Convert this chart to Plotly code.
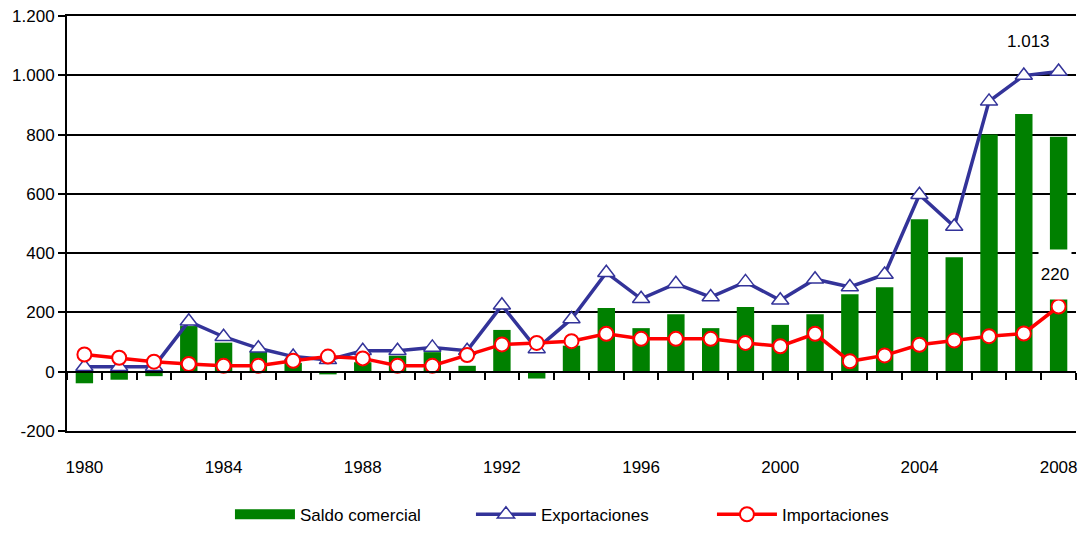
import plotly.graph_objects as go

# Datos (millones)
anyos = [1980, 1981, 1982, 1983, 1984, 1985, 1986, 1987, 1988, 1989,
         1990, 1991, 1992, 1993, 1994, 1995, 1996, 1997, 1998, 1999,
         2000, 2001, 2002, 2003, 2004, 2005, 2006, 2007, 2008]

exportaciones = [17, 17, 17, 170, 118, 79, 51, 40, 71, 71,
                 82, 71, 224, 77, 178, 334, 246, 297, 252, 303,
                 241, 312, 286, 328, 597, 490, 912, 999, 1013]

importaciones = [58, 47, 34, 26, 20, 20, 37, 51, 45, 20,
                 20, 56, 92, 97, 103, 128, 111, 111, 111, 97,
                 86, 128, 35, 55, 91, 105, 120, 129, 220]

saldo = [-39, -27, -15, 154, 98, 68, 30, -9, 32, 54,
         66, 20, 141, -23, 88, 215, 147, 194, 147, 218,
         158, 194, 261, 285, 514, 386, 800, 869, 793]

anyos_etiqueta = [1980, 1984, 1988, 1992, 1996, 2000, 2004, 2008]
valores_eje_y = [-200, 0, 200, 400, 600, 800, 1000, 1200]
etiquetas_eje_y = ['-200', '0', '200', '400', '600', '800', '1.000', '1.200']

AZUL = '#333399'
ROJO = '#ff0000'
VERDE = '#008000'
FUENTE = 'Liberation Sans, Arial, sans-serif'
TAM = 17

rango_x = [anyos[0] - 0.5, anyos[-1] + 0.5]
rango_y = [valores_eje_y[0], valores_eje_y[-1]]
# posicion del eje en y = 0 (fraccion del area de dibujo)
pos_cero = (0 - rango_y[0]) / (rango_y[1] - rango_y[0])


def miles(v):
    return f"{v:,}".replace(',', '.')


fig = go.Figure()

fig.add_trace(go.Bar(
    x=anyos,
    y=saldo,
    name='Saldo comercial',
    marker=dict(color=VERDE, line=dict(width=0)),
    width=0.5,
    showlegend=False,
    xaxis='x', yaxis='y'
))

# solo para la leyenda (rectangulo ancho verde)
fig.add_trace(go.Scatter(
    x=[None], y=[None],
    name='Saldo comercial',
    mode='lines',
    line=dict(color=VERDE, width=17),
    xaxis='x2', yaxis='y'
))

fig.add_trace(go.Scatter(
    x=anyos,
    y=exportaciones,
    name='Exportaciones',
    mode='lines+markers',
    line=dict(color=AZUL, width=3.5),
    marker=dict(symbol='triangle-up', size=15, color='white',
                line=dict(color=AZUL, width=1.5)),
    xaxis='x2', yaxis='y'
))

fig.add_trace(go.Scatter(
    x=anyos,
    y=importaciones,
    name='Importaciones',
    mode='lines+markers',
    line=dict(color=ROJO, width=3.5),
    marker=dict(symbol='circle', size=14, color='white',
                line=dict(color=ROJO, width=2)),
    xaxis='x2', yaxis='y'
))

fig.add_annotation(
    x=anyos[-1], y=exportaciones[-1], xref='x', yref='y',
    text=miles(exportaciones[-1]), showarrow=False,
    xshift=-30, yshift=30,
    font=dict(size=TAM, color='black')
)
fig.add_annotation(
    x=anyos[-1], y=importaciones[-1], xref='x', yref='y',
    text=miles(importaciones[-1]), showarrow=False,
    xshift=-4, yshift=32, width=30, height=47,
    bgcolor='white',
    font=dict(size=TAM, color='black')
)

# la pagina tiene 8px de margen en el body: se compensa con el tamano
fig.update_layout(
    width=1070,
    height=525,
    margin=dict(l=59, r=2, t=8, b=101),
    plot_bgcolor='white',
    paper_bgcolor='white',
    font=dict(family=FUENTE, size=TAM, color='black'),
    showlegend=True,
    legend=dict(orientation='h', x=0.1615, xanchor='left', y=-0.242,
                yanchor='bottom', font=dict(size=TAM), traceorder='normal',
                itemwidth=60, entrywidth=166),
    xaxis=dict(
        range=rango_x,
        tickmode='array', tickvals=anyos_etiqueta,
        ticks='', ticklabelstandoff=20,
        showline=True, linecolor='black', linewidth=2, mirror=True,
        showgrid=False, zeroline=False, automargin=False
    ),
    xaxis2=dict(
        range=rango_x,
        overlaying='x', anchor='free', position=pos_cero,
        tickmode='linear', tick0=rango_x[0], dtick=1,
        ticks='outside', ticklen=7, tickwidth=2, tickcolor='black',
        showticklabels=False,
        showline=True, linecolor='black', linewidth=2,
        showgrid=False, zeroline=False, automargin=False
    ),
    yaxis=dict(
        range=rango_y,
        tickmode='array', tickvals=valores_eje_y, ticktext=etiquetas_eje_y,
        ticks='outside', ticklen=7, tickwidth=2, tickcolor='black',
        ticklabeloverflow='allow',
        showline=True, linecolor='black', linewidth=2,
        showgrid=True, gridcolor='black', gridwidth=2,
        zeroline=False, automargin=False
    ),
    bargap=0.5
)

fig.write_html("out.html")
